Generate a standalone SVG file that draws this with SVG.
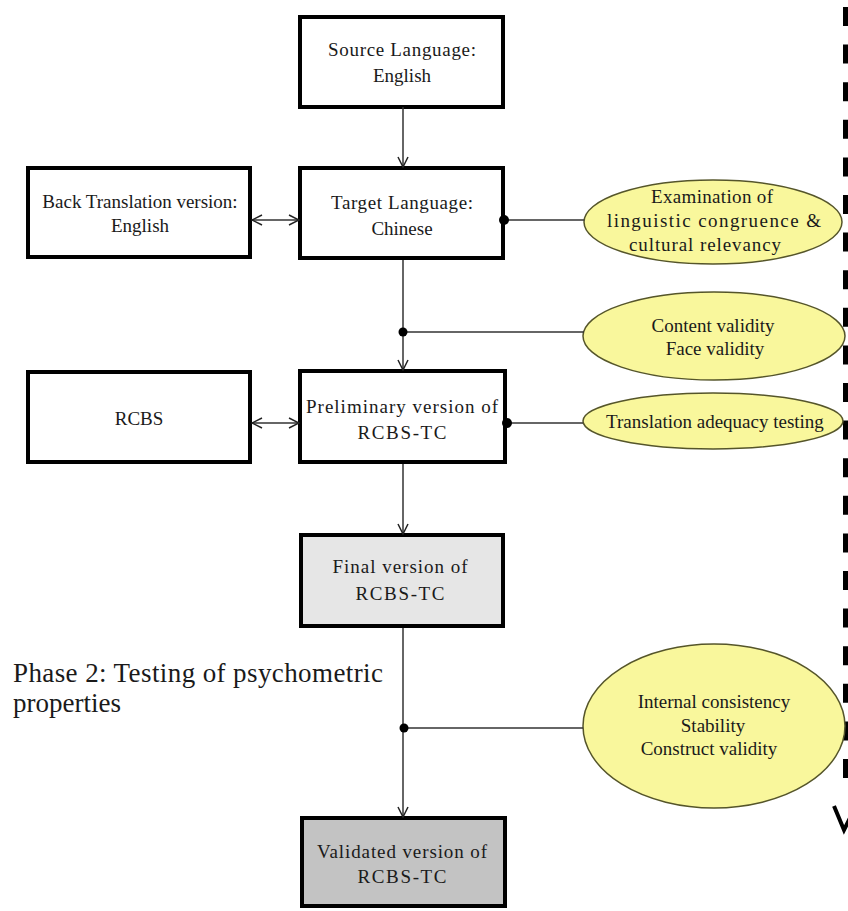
<svg xmlns="http://www.w3.org/2000/svg" width="848" height="911" viewBox="0 0 848 911">
<defs>
<style>
text{font-family:"Liberation Serif","Times New Roman",serif;font-size:19px;fill:#1a1a1a;text-anchor:middle}
.box{stroke:#000;stroke-width:4;fill:#fff}
.ell{fill:#f9f79c;stroke:#55552a;stroke-width:1.5}
.con{stroke:#333;stroke-width:1.5;fill:none}
.dot{fill:#000}
.phase{font-size:27px;text-anchor:start}
</style>
<marker id="arr" viewBox="0 0 12 12" refX="11" refY="6" markerWidth="12" markerHeight="12" markerUnits="userSpaceOnUse" orient="auto-start-reverse">
<path d="M1 1 L11 6 L1 11" fill="none" stroke="#222" stroke-width="1.5"/>
</marker>
</defs>
<rect width="848" height="911" fill="#fff"/>

<g id="dashed-timeline">
<line x1="846" y1="7" x2="846" y2="795" stroke="#000" stroke-width="6" stroke-dasharray="19 18.6"/>
<path d="M834 806 L844 830 L856 806" fill="none" stroke="#000" stroke-width="4"/>
</g>

<g id="source">
<rect class="box" x="300" y="17" width="203" height="90"/>
<text x="402" y="56" textLength="148" lengthAdjust="spacing">Source Language:</text>
<text x="402" y="82">English</text>
</g>

<g id="target">
<rect class="box" x="300" y="168" width="203" height="90"/>
<text x="402" y="209" textLength="142" lengthAdjust="spacing">Target Language:</text>
<text x="402" y="235">Chinese</text>
</g>

<g id="back-translation">
<rect class="box" x="28" y="168" width="222" height="89"/>
<text x="140" y="208">Back Translation version:</text>
<text x="140" y="232">English</text>
</g>

<g id="rcbs">
<rect class="box" x="28" y="372" width="222" height="90"/>
<text x="139" y="425">RCBS</text>
</g>

<g id="preliminary">
<rect class="box" x="300" y="371" width="205" height="91"/>
<text x="402" y="413" textLength="192" lengthAdjust="spacing">Preliminary version of</text>
<text x="402" y="439" textLength="89" lengthAdjust="spacing">RCBS-TC</text>
</g>

<g id="final">
<rect class="box" x="301" y="535" width="202" height="91" style="fill:#e6e6e6"/>
<text x="400" y="573" textLength="135" lengthAdjust="spacing">Final version of</text>
<text x="400" y="600" textLength="89" lengthAdjust="spacing">RCBS-TC</text>
</g>

<g id="validated">
<rect class="box" x="302" y="818" width="203" height="88" style="fill:#c3c3c3"/>
<text x="402" y="858" textLength="170" lengthAdjust="spacing">Validated version of</text>
<text x="402" y="883" textLength="89" lengthAdjust="spacing">RCBS-TC</text>
</g>

<g id="examination">
<ellipse class="ell" cx="713" cy="222" rx="129" ry="42"/>
<text x="712" y="203" textLength="122" lengthAdjust="spacing">Examination of</text>
<text x="714" y="227" textLength="214" lengthAdjust="spacing">linguistic congruence &amp;</text>
<text x="705" y="251" textLength="152" lengthAdjust="spacing">cultural relevancy</text>
</g>

<g id="content-validity">
<ellipse class="ell" cx="714" cy="336" rx="131" ry="44"/>
<text x="713" y="332">Content validity</text>
<text x="715" y="355">Face validity</text>
</g>

<g id="translation-adequacy">
<ellipse class="ell" cx="713" cy="421" rx="130" ry="28"/>
<text x="715" y="428">Translation adequacy testing</text>
</g>

<g id="psychometric">
<ellipse class="ell" cx="714" cy="726" rx="131" ry="82"/>
<text x="714" y="708">Internal consistency</text>
<text x="713" y="732">Stability</text>
<text x="709" y="755">Construct validity</text>
</g>

<g id="phase2">
<text class="phase" x="13" y="682" textLength="370" lengthAdjust="spacing">Phase 2: Testing of psychometric</text>
<text class="phase" x="13" y="712">properties</text>
</g>

<g id="connectors">
<line class="con" x1="403" y1="107" x2="403" y2="167" marker-end="url(#arr)"/>
<line class="con" x1="403" y1="260" x2="403" y2="370" marker-end="url(#arr)"/>
<line class="con" x1="403" y1="332" x2="584" y2="332"/>
<circle class="dot" cx="403" cy="332" r="4.5"/>
<line class="con" x1="503" y1="220" x2="584" y2="220"/>
<circle class="dot" cx="504" cy="220" r="5"/>
<line class="con" x1="252" y1="220" x2="299" y2="220" marker-start="url(#arr)" marker-end="url(#arr)"/>
<line class="con" x1="252" y1="423" x2="299" y2="423" marker-start="url(#arr)" marker-end="url(#arr)"/>
<line class="con" x1="505" y1="423" x2="583" y2="423"/>
<circle class="dot" cx="507" cy="423" r="5"/>
<line class="con" x1="403" y1="464" x2="403" y2="534" marker-end="url(#arr)"/>
<line class="con" x1="403" y1="628" x2="403" y2="817" marker-end="url(#arr)"/>
<line class="con" x1="403" y1="728" x2="583" y2="728"/>
<circle class="dot" cx="404" cy="728" r="4.5"/>
</g>
</svg>
